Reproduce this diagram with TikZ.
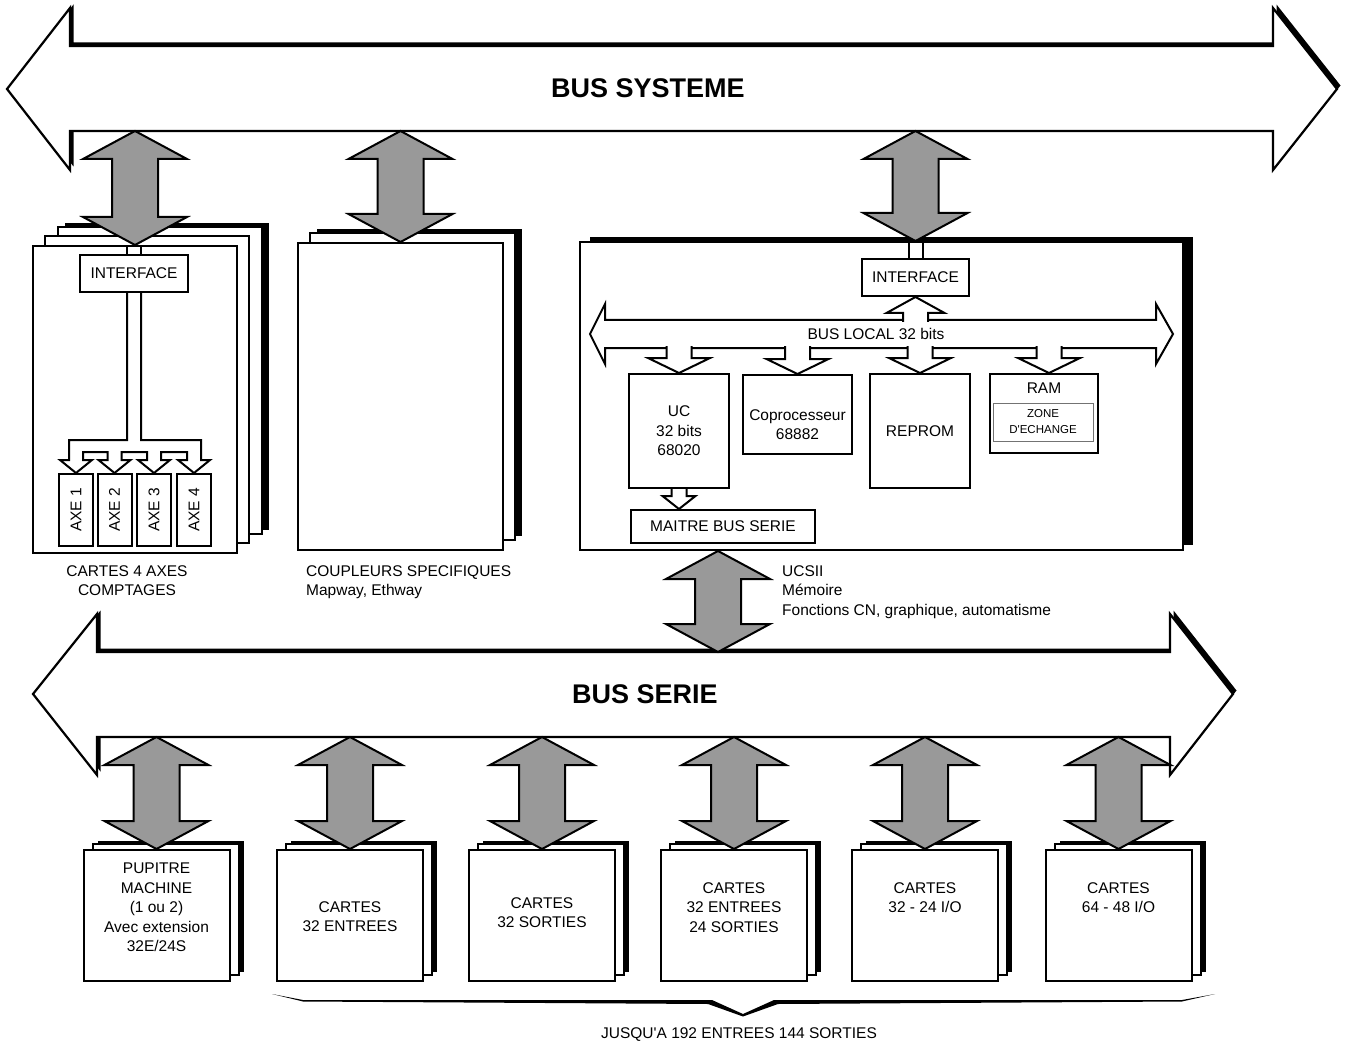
\documentclass[tikz,border=0pt]{standalone}
\usepackage{fontspec}
\setmainfont{Liberation Sans}
\usetikzlibrary{calc, positioning, shadows}

\newcommand{\fs}{\fontsize{15.5}{19.5}\selectfont}
\newcommand{\fsmall}{\fontsize{11.5}{16}\selectfont}
\newcommand{\fbus}{\fontsize{27}{32}\selectfont\bfseries}

% gray double arrow, from a point on a bus down to a card
\newcommand{\gbus}[2]{%
  \filldraw[grayarrow] let \p1=(#1), \p2=(#2) in
    (\x1,\y1) -- (\x1+52pt,\y1-28pt) -- (\x1+23pt,\y1-28pt) -- (\x1+23pt,\y2+28pt)
    -- (\x1+52pt,\y2+28pt) -- (\x1,\y2) -- (\x1-52pt,\y2+28pt) -- (\x1-23pt,\y2+28pt)
    -- (\x1-23pt,\y1-28pt) -- (\x1-52pt,\y1-28pt) -- cycle;}

% hollow arrow from the local bus down to a box
\newcommand{\busdrop}[2][0pt]{%
  \filldraw[hollow] let \p1=([xshift=#1]#2.north), \p2=(lbb) in
    (\x1-12.5pt,\y2+2pt) -- (\x1-12.5pt,\y1+15pt) -- (\x1-31pt,\y1+15pt) -- (\x1,\y1)
    -- (\x1+31pt,\y1+15pt) -- (\x1+12.5pt,\y1+15pt) -- (\x1+12.5pt,\y2+2pt);}

% hollow arrow from the local bus up to a box
\newcommand{\busrise}[1]{%
  \filldraw[hollow] let \p1=(#1.south), \p2=(lbt) in
    (\x1-12.5pt,\y2-2pt) -- (\x1-12.5pt,\y1-16pt) -- (\x1-29pt,\y1-16pt) -- (\x1,\y1)
    -- (\x1+29pt,\y1-16pt) -- (\x1+12.5pt,\y1-16pt) -- (\x1+12.5pt,\y2-2pt);}

\begin{document}
\begin{tikzpicture}[x=1pt, y=-1pt,
    line/.style={draw=black, line width=2pt},
    hollow/.style={draw=black, line width=2pt, fill=white},
    box/.style={rectangle, draw=black, line width=2pt, fill=white, inner sep=0pt, font=\fs, align=center},
    txt/.style={inner sep=0pt, font=\fs, align=center},
    bus/.style={draw=black, line width=2.2pt, fill=white,
        drop shadow={shadow xshift=3.5pt, shadow yshift=3.5pt, fill=black, opacity=1}},
    grayarrow/.style={draw=black, line width=2pt, fill=black!40},
    bigstack/.style={
        general shadow={shadow xshift=32pt, shadow yshift=23pt, fill=black},
        general shadow={shadow xshift=25pt, shadow yshift=19pt, fill=white, draw=black, line width=2pt},
        general shadow={shadow xshift=12pt, shadow yshift=10pt, fill=white, draw=black, line width=2pt}},
    midstack/.style={
        general shadow={shadow xshift=19pt, shadow yshift=14pt, fill=black},
        general shadow={shadow xshift=12pt, shadow yshift=10pt, fill=white, draw=black, line width=2pt}},
    smallstack/.style={
        general shadow={shadow xshift=14pt, shadow yshift=9pt, fill=black},
        general shadow={shadow xshift=9pt, shadow yshift=6pt, fill=white, draw=black, line width=2pt}},
    heavy/.style={general shadow={shadow xshift=10pt, shadow yshift=5pt, fill=black}}
]
\useasboundingbox (0,0) rectangle (1345,1043);

% bus systeme
\draw[bus] (7,89) -- (70,8) -- (70,46) -- (1273,46) -- (1273,8) -- (1337,89)
    -- (1273,170) -- (1273,131) -- (70,131) -- (70,170) -- cycle;
\node[txt, font=\fbus] (bsys) at (648,88) {BUS SYSTEME};
\coordinate (sysb) at (0,131);

% bus serie
\draw[bus] (33,694) -- (97,614) -- (97,652) -- (1170,652) -- (1170,614) -- (1233,694)
    -- (1170,775) -- (1170,737) -- (97,737) -- (97,775) -- cycle;
\node[txt, font=\fbus] (bser) at (645,694) {BUS SERIE};
\coordinate (sert) at (0,652);
\coordinate (serb) at (0,737);

% cartes 4 axes
\node[box, bigstack, minimum width=204pt, minimum height=307pt] (axes) at (135,399.5) {};
\node[box, minimum width=108pt, minimum height=37pt] (ifa) at (134,273.5) {INTERFACE};
\draw[line] ([xshift=-7pt]ifa.north) -- ([xshift=-7pt]ifa.north |- axes.north);
\draw[line] ([xshift=7pt]ifa.north) -- ([xshift=7pt]ifa.north |- axes.north);
\draw[line] (127,292) -- (127,440) -- (69,440)
    \foreach \x in {76,114.5,154,194} { -- (\x-7,452) -- (\x-7,460) -- (\x-16,460) -- (\x,473)
    -- (\x+16,460) -- (\x+7,460) -- (\x+7,452) } -- (201,440) -- (141,440) -- (141,292);
\foreach \x/\n in {76/1,114.5/2,154/3,194/4}
    \node[box, minimum width=72pt, minimum height=34pt, rotate=90] (axe\n) at (\x,510) {AXE \n};
\node[txt, anchor=north] (axcap) at (127,565) {CARTES 4 AXES\\COMPTAGES};

% coupleurs
\node[box, midstack, minimum width=205pt, minimum height=307pt] (coupl) at (400.5,396.5) {};
\node[txt, anchor=north west, align=left] (coucap) at (306,565) {COUPLEURS SPECIFIQUES\\Mapway, Ethway};

% UCSII
\node[box, heavy, minimum width=603pt, minimum height=308pt] (ucsii) at (881.5,396) {};
\node[box, minimum width=107pt, minimum height=37pt] (ifb) at (915.5,277.5) {INTERFACE};
\draw[line] ([xshift=-7pt]ifb.north) -- ([xshift=-7pt]ifb.north |- ucsii.north);
\draw[line] ([xshift=7pt]ifb.north) -- ([xshift=7pt]ifb.north |- ucsii.north);

\draw[hollow] (590,334) -- (605,304) -- (605,320) -- (1156,320) -- (1156,304) -- (1173,334)
    -- (1156,364) -- (1156,348) -- (605,348) -- (605,364) -- cycle;
\coordinate (lbt) at (0,320);
\coordinate (lbb) at (0,348);
\node[txt] (lbus) at (876,334) {BUS LOCAL 32 bits};

\node[box, minimum width=100pt, minimum height=114pt] (uc) at (679,431) {UC\\32 bits\\68020};
\node[box, minimum width=109pt, minimum height=79pt] (copro) at (797.5,414.5) {};
\node[txt] (coprotxt) at ([yshift=-10pt]copro.center) {Coprocesseur\\68882};
\node[box, minimum width=100pt, minimum height=114pt] (reprom) at (920,431) {REPROM};
\node[box, minimum width=108pt, minimum height=79pt] (ram) at (1044,413.5) {};
\node[txt, below=10pt of ram.north] (ramtxt) {RAM};
\node[box, draw=black!55, line width=1pt, font=\fsmall, minimum width=100pt, minimum height=38pt] (zone) at (1043,422) {ZONE\\D\textquotesingle ECHANGE};
\node[box, minimum width=184pt, minimum height=33pt] (maitre) at (723,526.5) {MAITRE BUS SERIE};

\busrise{ifb}
\busdrop{uc}
\busdrop{copro}
\busdrop{reprom}
\busdrop[5pt]{ram}
\filldraw[hollow] let \p1=(uc.south), \p2=(maitre.north) in
    (\x1-7.5pt,\y1) -- (\x1-7.5pt,\y2+13pt) -- (\x1-16.5pt,\y2+13pt) -- (\x1,\y2)
    -- (\x1+16.5pt,\y2+13pt) -- (\x1+7.5pt,\y2+13pt) -- (\x1+7.5pt,\y1);

\node[txt, anchor=north west, align=left] (ucscap) at (782,565) {UCSII\\Mémoire\\Fonctions CN, graphique, automatisme};

% liaisons bus systeme
\gbus{sysb -| axes.north}{axes.north}
\gbus{sysb -| coupl.north}{coupl.north}
\gbus{sysb -| ifb.north}{ucsii.north -| ifb.north}
\gbus{[xshift=-5pt]ucsii.south -| maitre.south}{[xshift=-5pt]sert -| maitre.south}

% cartes sur bus serie
\foreach \i/\x in {1/156.5, 2/350, 3/542, 4/734, 5/925, 6/1118.5}
    \node[box, smallstack, minimum width=146pt, minimum height=131pt] (c\i) at (\x,915.5) {};
\node[txt, below=14pt of c1.north] (t1) {PUPITRE\\MACHINE\\(1 ou 2)\\Avec extension\\32E/24S};
\node[txt, below=52pt of c2.north] (t2) {CARTES\\32 ENTREES};
\node[txt, below=48pt of c3.north] (t3) {CARTES\\32 SORTIES};
\node[txt, below=33pt of c4.north] (t4) {CARTES\\32 ENTREES\\24 SORTIES};
\node[txt, below=33pt of c5.north] (t5) {CARTES\\32 - 24 I/O};
\node[txt, below=33pt of c6.north] (t6) {CARTES\\64 - 48 I/O};
\foreach \i in {1,...,6} {
    \gbus{serb -| c\i.north}{c\i.north}
}

% accolade
\fill[black] (272,994) -- (303,1000) -- (712,1000) -- (743,1014) -- (774,1000) -- (1182,1000)
    -- (1215,994) -- (1182,1001.5) -- (778,1004) -- (743,1016.5) -- (708,1004) -- (303,1001.5) -- cycle;
\node[txt, anchor=north] (jusq) at (739,1027) {JUSQU\textquotesingle A 192 ENTREES 144 SORTIES};

\end{tikzpicture}
\end{document}
